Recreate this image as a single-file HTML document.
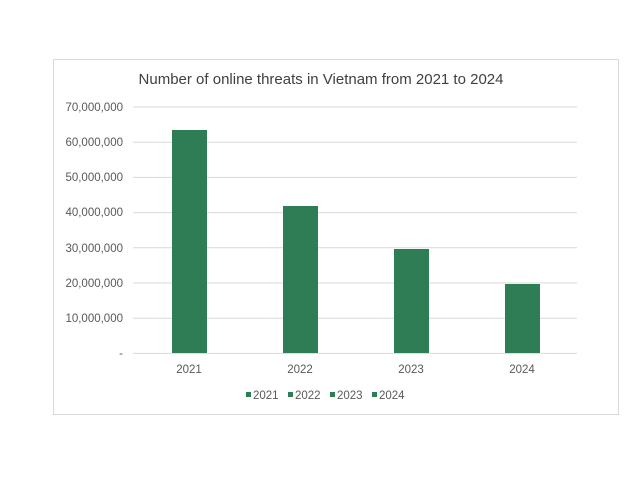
<!DOCTYPE html>
<html><head><style>body{margin:0;background:#fff}</style></head><body>
<svg width="640" height="480" xmlns="http://www.w3.org/2000/svg" font-family="Liberation Sans, sans-serif">
<rect x="0" y="0" width="640" height="480" fill="#fff"/>
<rect x="53.5" y="59.5" width="565" height="355" fill="#fff" stroke="#d9d9d9" stroke-width="1"/>
<text x="321" y="84" font-size="15" fill="#404040" text-anchor="middle">Number of online threats in Vietnam from 2021 to 2024</text>
<g stroke="#d9d9d9" stroke-width="1">
<line x1="133" x2="577" y1="107" y2="107"/>
<line x1="133" x2="577" y1="142.2" y2="142.2"/>
<line x1="133" x2="577" y1="177.4" y2="177.4"/>
<line x1="133" x2="577" y1="212.6" y2="212.6"/>
<line x1="133" x2="577" y1="247.8" y2="247.8"/>
<line x1="133" x2="577" y1="283" y2="283"/>
<line x1="133" x2="577" y1="318.2" y2="318.2"/>
<line x1="133" x2="577" y1="353.4" y2="353.4"/>
</g>
<g font-size="11.5" fill="#595959" text-anchor="end">
<text x="123" y="111">70,000,000</text>
<text x="123" y="146">60,000,000</text>
<text x="123" y="181">50,000,000</text>
<text x="123" y="216">40,000,000</text>
<text x="123" y="252">30,000,000</text>
<text x="123" y="287">20,000,000</text>
<text x="123" y="322">10,000,000</text>
<text x="123" y="357">-</text>
</g>
<g fill="#2e7d55">
<rect x="172" y="130" width="35" height="223"/>
<rect x="283" y="206" width="35" height="147"/>
<rect x="394" y="249" width="35" height="104"/>
<rect x="505" y="284" width="35" height="69"/>
</g>
<g font-size="11.5" fill="#595959" text-anchor="middle">
<text x="189" y="373">2021</text>
<text x="300" y="373">2022</text>
<text x="411" y="373">2023</text>
<text x="522" y="373">2024</text>
</g>
<g fill="#2e7d55">
<rect x="246" y="392" width="5" height="5"/>
<rect x="288" y="392" width="5" height="5"/>
<rect x="330" y="392" width="5" height="5"/>
<rect x="372" y="392" width="5" height="5"/>
</g>
<g font-size="11.5" fill="#595959">
<text x="253" y="399">2021</text>
<text x="295" y="399">2022</text>
<text x="337" y="399">2023</text>
<text x="379" y="399">2024</text>
</g>
</svg>
</body></html>
